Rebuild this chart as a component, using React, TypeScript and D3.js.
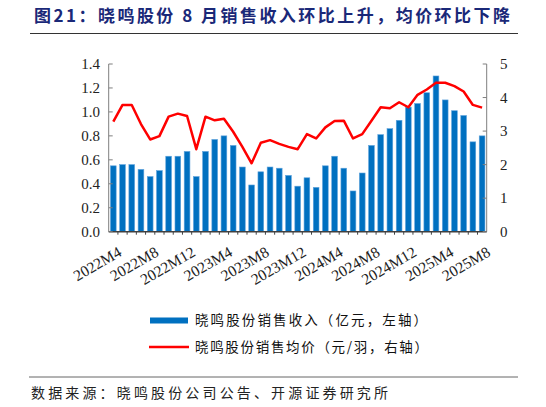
import * as d3 from "d3";
import { useEffect, useRef } from "react";

const width = 546;
const height = 407;
const plot = { left: 108.7, right: 486.7, top: 64, bottom: 231.7 };

const months = [
  "2022M4", "2022M5", "2022M6", "2022M7", "2022M8", "2022M9", "2022M10", "2022M11", "2022M12",
  "2023M1", "2023M2", "2023M3", "2023M4", "2023M5", "2023M6", "2023M7", "2023M8", "2023M9",
  "2023M10", "2023M11", "2023M12", "2024M1", "2024M2", "2024M3", "2024M4", "2024M5", "2024M6",
  "2024M7", "2024M8", "2024M9", "2024M10", "2024M11", "2024M12", "2025M1", "2025M2", "2025M3",
  "2025M4", "2025M5", "2025M6", "2025M7", "2025M8"
];

// 销售收入（亿元）
const revenue = [
  0.55, 0.56, 0.56, 0.52, 0.46, 0.51, 0.63, 0.63, 0.67, 0.46, 0.67, 0.77, 0.8, 0.72,
  0.54, 0.39, 0.5, 0.54, 0.53, 0.47, 0.38, 0.45, 0.37, 0.55, 0.63, 0.53, 0.34, 0.49,
  0.72, 0.81, 0.86, 0.93, 1.04, 1.07, 1.16, 1.3, 1.1, 1.01, 0.97, 0.75, 0.8
];

// 销售均价（元/羽）
const price = [
  3.28, 3.78, 3.78, 3.21, 2.75, 2.85, 3.43, 3.52, 3.45, 2.46, 3.43, 3.32, 3.37, 2.98,
  2.53, 2.04, 2.65, 2.73, 2.62, 2.53, 2.46, 2.91, 2.78, 3.11, 3.3, 3.31, 2.78, 2.91,
  3.31, 3.71, 3.68, 3.86, 3.71, 4.08, 4.24, 4.44, 4.44, 4.34, 4.18, 3.78, 3.7
];

const leftTicks = [0, 0.2, 0.4, 0.6, 0.8, 1.0, 1.2, 1.4];
const rightTicks = [0, 1, 2, 3, 4, 5];
const xTickLabels = [
  "2022M4", "2022M8", "2022M12", "2023M4", "2023M8", "2023M12",
  "2024M4", "2024M8", "2024M12", "2025M4", "2025M8"
];

const title = "图21：晓鸣股份 8 月销售收入环比上升，均价环比下降";
const legendLabels = ["晓鸣股份销售收入（亿元，左轴）", "晓鸣股份销售均价（元/羽，右轴）"];
const sourceText = "数据来源：晓鸣股份公司公告、开源证券研究所";

const cjk = "'Noto Sans CJK SC', sans-serif";
const latin = "'Liberation Serif', 'Times New Roman', serif";
const barColor = "#0070c0";
const lineColor = "#ff0000";
const axisColor = "#7f7f7f";

export default function App() {
  const svgRef = useRef<SVGSVGElement | null>(null);

  useEffect(() => {
    if (!svgRef.current) return;
    const svg = d3.select(svgRef.current);
    svg.selectAll("*").remove();

    const x = d3.scaleBand(months, [plot.left, plot.right]).paddingInner(0.38).paddingOuter(0.19);
    const yL = d3.scaleLinear([0, 1.4], [plot.bottom, plot.top]);
    const yR = d3.scaleLinear([0, 5], [plot.bottom, plot.top]);
    const cx = (m: string) => (x(m) ?? 0) + x.bandwidth() / 2;

    svg.append("rect").attr("width", width).attr("height", height).attr("fill", "#fff");

    // title
    svg
      .append("text")
      .attr("x", 34)
      .attr("y", 22)
      .attr("font-family", cjk)
      .attr("font-weight", 700)
      .attr("font-size", 17)
      .attr("fill", "#1a2878")
      .attr("textLength", 476)
      .attr("lengthAdjust", "spacing")
      .text(title);
    svg
      .append("line")
      .attr("x1", 30)
      .attr("x2", 518)
      .attr("y1", 33.5)
      .attr("y2", 33.5)
      .attr("stroke", "#333")
      .attr("stroke-width", 1.2);

    // bars
    svg
      .append("g")
      .selectAll("rect")
      .data(revenue)
      .join("rect")
      .attr("x", (_d, i) => x(months[i]) ?? 0)
      .attr("y", (d) => yL(d))
      .attr("width", x.bandwidth())
      .attr("height", (d) => plot.bottom - yL(d))
      .attr("fill", barColor)
      .attr("stroke", "#5fa3dc")
      .attr("stroke-width", 0.6);

    // axes
    const axes = svg.append("g").attr("stroke", axisColor).attr("stroke-width", 1);
    axes.append("line").attr("x1", plot.left).attr("x2", plot.left).attr("y1", plot.top).attr("y2", plot.bottom);
    axes.append("line").attr("x1", plot.right).attr("x2", plot.right).attr("y1", plot.top).attr("y2", plot.bottom);
    axes.append("line").attr("x1", plot.left).attr("x2", plot.right).attr("y1", plot.bottom).attr("y2", plot.bottom).attr("stroke", "#404040").attr("stroke-width", 1.5);
    axes
      .selectAll(".lt")
      .data(leftTicks)
      .join("line")
      .attr("x1", plot.left)
      .attr("x2", plot.left + 4)
      .attr("y1", (d) => yL(d))
      .attr("y2", (d) => yL(d));
    axes
      .selectAll(".rt")
      .data(rightTicks)
      .join("line")
      .attr("x1", plot.right - 4)
      .attr("x2", plot.right)
      .attr("y1", (d) => yR(d))
      .attr("y2", (d) => yR(d));
    axes
      .selectAll(".bt")
      .data(months.slice(1))
      .join("line")
      .attr("x1", (m) => (x(m) ?? 0) - (x.step() - x.bandwidth()) / 2)
      .attr("x2", (m) => (x(m) ?? 0) - (x.step() - x.bandwidth()) / 2)
      .attr("y1", plot.bottom)
      .attr("y2", plot.bottom + 3)
      .attr("stroke", "#404040");

    svg
      .append("g")
      .selectAll("text")
      .data(leftTicks)
      .join("text")
      .attr("x", 100)
      .attr("y", (d) => yL(d))
      .attr("dy", "0.35em")
      .attr("text-anchor", "end")
      .attr("font-family", latin)
      .attr("font-size", 15)
      .attr("fill", "#222")
      .text((d) => d3.format(".1f")(d));

    svg
      .append("g")
      .selectAll("text")
      .data(rightTicks)
      .join("text")
      .attr("x", 500)
      .attr("y", (d) => yR(d))
      .attr("dy", "0.35em")
      .attr("font-family", latin)
      .attr("font-size", 15)
      .attr("fill", "#222")
      .text((d) => String(d));

    svg
      .append("g")
      .selectAll("text")
      .data(xTickLabels)
      .join("text")
      .attr("transform", (m) => `translate(${cx(m) + 4},${plot.bottom + 14}) rotate(-30)`)
      .attr("dy", "0.7em")
      .attr("text-anchor", "end")
      .attr("font-family", latin)
      .attr("font-size", 15.5)
      .attr("fill", "#222")
      .text((m) => m);

    // line
    const line = d3
      .line<number>()
      .x((_d, i) => cx(months[i]))
      .y((d) => yR(d));
    svg
      .append("path")
      .datum(price)
      .attr("d", line)
      .attr("fill", "none")
      .attr("stroke", lineColor)
      .attr("stroke-width", 2.5)
      .attr("stroke-linejoin", "round");

    // legend
    const legend = svg.append("g");
    legend.append("rect").attr("x", 150).attr("y", 317.5).attr("width", 38).attr("height", 6).attr("fill", barColor);
    legend
      .append("line")
      .attr("x1", 149)
      .attr("x2", 189)
      .attr("y1", 347)
      .attr("y2", 347)
      .attr("stroke", lineColor)
      .attr("stroke-width", 2.5);
    legend
      .selectAll("text")
      .data(legendLabels)
      .join("text")
      .attr("x", 195)
      .attr("y", (_d, i) => 320 + i * 27)
      .attr("dy", "0.36em")
      .attr("font-family", cjk)
      .attr("font-size", 13.5)
      .attr("fill", "#111")
      .attr("textLength", (_d, i) => (i === 0 ? 232 : 233))
      .attr("lengthAdjust", "spacing")
      .text((d) => d);

    svg
      .append("line")
      .attr("x1", 29)
      .attr("x2", 518)
      .attr("y1", 377)
      .attr("y2", 377)
      .attr("stroke", "#666")
      .attr("stroke-width", 1);
    svg
      .append("text")
      .attr("x", 31)
      .attr("y", 398)
      .attr("font-family", cjk)
      .attr("font-size", 14)
      .attr("fill", "#222")
      .attr("textLength", 357)
      .attr("lengthAdjust", "spacing")
      .text(sourceText);
  }, []);

  return (
    <svg
      ref={svgRef}
      width={width}
      height={height}
      viewBox={`0 0 ${width} ${height}`}
      style={{ position: "absolute", left: 0, top: 0, display: "block" }}
    />
  );
}
